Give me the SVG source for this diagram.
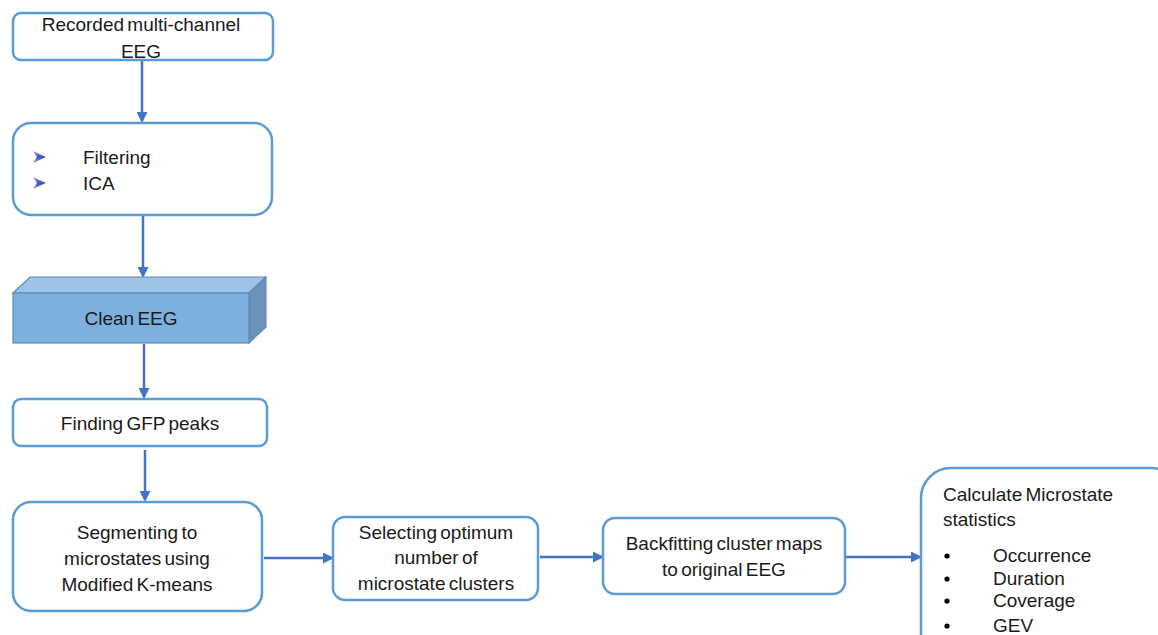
<svg xmlns="http://www.w3.org/2000/svg" width="1158" height="635" viewBox="0 0 1158 635">
<style>
.box{fill:#ffffff;stroke:#5b9bd5;stroke-width:2.5}
.t{font-family:"Liberation Sans",Arial,sans-serif;font-size:19px;fill:#1a1a1a;word-spacing:-2px}
.c{text-anchor:middle}
.conn{stroke:#4472c4;stroke-width:2.5;fill:none;marker-end:url(#ah)}
</style>
<defs>
<marker id="ah" markerWidth="11" markerHeight="11" refX="9" refY="5.5" orient="auto" markerUnits="userSpaceOnUse">
<path d="M0,0 L11,5.5 L0,11 Z" fill="#4472c4"/>
</marker>
<linearGradient id="bul" x1="0" y1="0" x2="0" y2="1">
<stop offset="0" stop-color="#9aa8e8"/>
<stop offset="0.5" stop-color="#3a4fc0"/>
<stop offset="1" stop-color="#8f9ce0"/>
</linearGradient>
</defs>
<g id="connectors">
<line class="conn" x1="142" y1="61" x2="142" y2="121"/>
<line class="conn" x1="143" y1="216" x2="143" y2="276"/>
<line class="conn" x1="144" y1="344" x2="144" y2="397"/>
<line class="conn" x1="145" y1="450" x2="145" y2="500"/>
<line class="conn" x1="264" y1="558" x2="332" y2="558"/>
<line class="conn" x1="540" y1="557" x2="602" y2="557"/>
<line class="conn" x1="846" y1="557" x2="920" y2="557"/>
</g>
<g id="n1">
<rect class="box" x="13" y="13" width="260" height="47" rx="8"/>
<text class="t c" x="141" y="31">Recorded multi-channel</text>
<text class="t c" x="141" y="58">EEG</text>
</g>
<g id="n2">
<rect class="box" x="13" y="123" width="259" height="92" rx="18"/>
<path d="M33,151 L46,157 L33,163 L37,157 Z" fill="url(#bul)"/>
<path d="M33,177 L46,183 L33,189 L37,183 Z" fill="url(#bul)"/>
<text class="t" x="83" y="164">Filtering</text>
<text class="t" x="83" y="190">ICA</text>
</g>
<g id="n3">
<polygon points="13,293 30,277 266,277 249,293" fill="#9dc3e6" stroke="#5f8ab5" stroke-width="1.2"/>
<polygon points="249,293 266,277 266,327 249,343" fill="#6b92ba" stroke="#5f8ab5" stroke-width="1.2"/>
<rect x="13" y="293" width="236" height="50" fill="#7eb0de" stroke="#5f8ab5" stroke-width="1.2"/>
<text class="t c" x="131" y="325">Clean EEG</text>
</g>
<g id="n4">
<rect class="box" x="13" y="399" width="254" height="47" rx="8"/>
<text class="t c" x="140" y="430">Finding GFP peaks</text>
</g>
<g id="n5">
<rect class="box" x="13" y="502" width="249" height="109" rx="18"/>
<text class="t c" x="137" y="539">Segmenting to</text>
<text class="t c" x="137" y="565">microstates using</text>
<text class="t c" x="137" y="591">Modified K-means</text>
</g>
<g id="n6">
<rect class="box" x="333" y="517" width="205" height="83" rx="12"/>
<text class="t c" x="436" y="539">Selecting optimum</text>
<text class="t c" x="436" y="564">number of</text>
<text class="t c" x="436" y="590">microstate clusters</text>
</g>
<g id="n7">
<rect class="box" x="603" y="518" width="242" height="76" rx="12"/>
<text class="t c" x="724" y="550">Backfitting cluster maps</text>
<text class="t c" x="724" y="576">to original EEG</text>
</g>
<g id="n8">
<rect class="box" x="921" y="468" width="260" height="200" rx="30"/>
<text class="t" x="943" y="501">Calculate Microstate</text>
<text class="t" x="943" y="526">statistics</text>
<circle cx="947" cy="556" r="2.6" fill="#000"/>
<circle cx="947" cy="579" r="2.6" fill="#000"/>
<circle cx="947" cy="601" r="2.6" fill="#000"/>
<circle cx="947" cy="626" r="2.6" fill="#000"/>
<text class="t" x="993" y="562">Occurrence</text>
<text class="t" x="993" y="585">Duration</text>
<text class="t" x="993" y="607">Coverage</text>
<text class="t" x="993" y="632">GEV</text>
</g>
</svg>
